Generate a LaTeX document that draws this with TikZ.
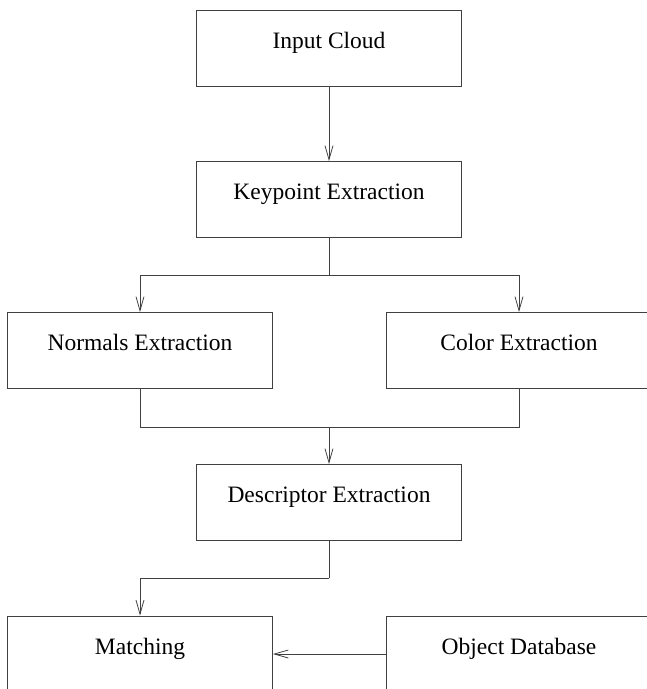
\documentclass[tikz,border=0pt]{standalone}
\usepackage{fontspec}
\setmainfont{Liberation Serif}
\usetikzlibrary{arrows.meta}
\begin{document}
\begin{tikzpicture}[x=1pt,y=-1pt,
  box/.style={draw=black!75, line width=0.8pt, rectangle, inner sep=0pt,
    minimum width=265pt, minimum height=76pt, text height=12pt, text depth=12pt,
    font=\fontsize{23.5}{28}\selectfont},
  conn/.style={draw=black!75, line width=0.8pt},
  arr/.style={conn, -{Straight Barb[length=14pt,width=8pt,line width=0.8pt]}}]
\useasboundingbox (0,0) rectangle (647,689);
\fill[white] (0,0) rectangle (647,689);
\begin{scope}
\clip (0,0) rectangle (647,689);
\node[box] (in) at (329,48) {Input Cloud};
\node[box] (kp) at (329,199.5) {Keypoint Extraction};
\node[box] (nr) at (140,350.5) {Normals Extraction};
\node[box] (cl) at (519,350.5) {Color Extraction};
\node[box] (ds) at (329,502.5) {Descriptor Extraction};
\node[box] (mt) at (140,654) {Matching};
\node[box] (ob) at (519,654) {Object Database};
\coordinate (b1) at (329,275);
\coordinate (m1) at (329,427);
\coordinate (d1) at (329,578);
\draw[arr] (in.south) -- (kp.north);
\draw[conn] (kp.south) -- (b1);
\draw[arr] (b1) -| (nr.north);
\draw[arr] (b1) -| (cl.north);
\draw[conn] (nr.south) |- (m1);
\draw[conn] (cl.south) |- (m1);
\draw[arr] (m1) -- (ds.north);
\draw[conn] (ds.south) -- (d1);
\draw[arr] (d1) -| (mt.north);
\draw[arr] (ob.west) -- (mt.east);
\end{scope}
\end{tikzpicture}
\end{document}
